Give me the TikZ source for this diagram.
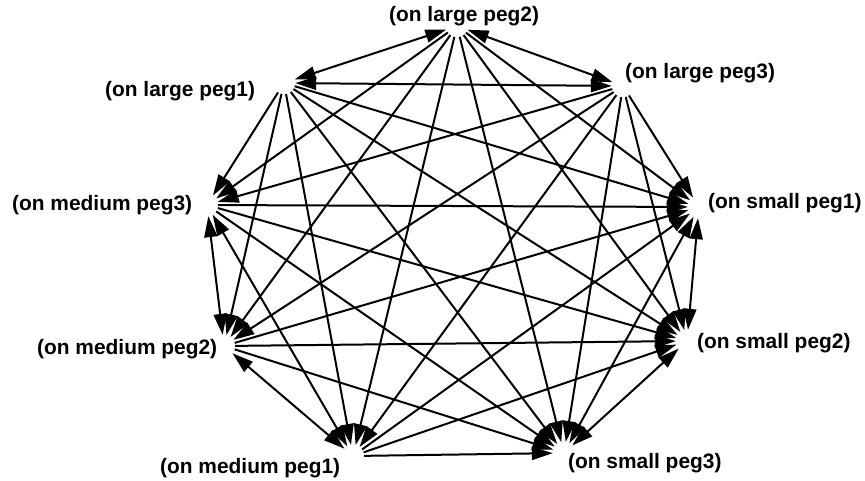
\documentclass[tikz,border=0pt]{standalone}
\usepackage{fontspec}
\setmainfont{Liberation Sans}
\usetikzlibrary{arrows.meta}
\begin{document}
\begin{tikzpicture}[x=1pt,y=-1pt,
  state/.style={circle,minimum size=22pt,inner sep=0pt},
  caption/.style={font=\fontsize{20.9}{24}\selectfont\bfseries,inner sep=0pt,anchor=base west},
  move/.style={line width=2pt,-{Triangle[length=21pt,width=13pt]}},
  twoway/.style={line width=2pt,{Triangle[length=21pt,width=13pt]}-{Triangle[length=21pt,width=13pt]}}]
\useasboundingbox (0,0) rectangle (865,480);

% states (points on a ring)
\node[state] (L2) at (457,26) {};
\node[state] (L1) at (284,83) {};
\node[state] (L3) at (623,86) {};
\node[state] (M3) at (207,205) {};
\node[state] (S1) at (699,207) {};
\node[state] (M2) at (224,346) {};
\node[state] (S2) at (687,341) {};
\node[state] (M1) at (353,456) {};
\node[state] (S3) at (564,453) {};

% captions
\node[caption] (tL2) at (389,21) {(on large peg2)};
\node[caption] (tL1) at (105,96) {(on large peg1)};
\node[caption] (tL3) at (625,78) {(on large peg3)};
\node[caption] (tM3) at (12,210) {(on medium peg3)};
\node[caption] (tS1) at (708,208) {(on small peg1)};
\node[caption] (tM2) at (37,354) {(on medium peg2)};
\node[caption] (tS2) at (697,348) {(on small peg2)};
\node[caption] (tM1) at (160,473) {(on medium peg1)};
\node[caption] (tS3) at (568,468) {(on small peg3)};

% moves down the size order
\foreach \a in {L1,L2,L3}
  \foreach \b in {M1,M2,M3,S1,S2,S3}
    \draw[move] (\a) -- (\b);
\foreach \a in {M1,M2,M3}
  \foreach \b in {S1,S2,S3}
    \draw[move] (\a) -- (\b);

% moves between pegs of the same disc, both ways
\foreach \a/\b in {L1/L2,L2/L3,L1/L3,M1/M2,M2/M3,M1/M3,S1/S2,S2/S3,S1/S3}
  \draw[twoway] (\a) -- (\b);
\end{tikzpicture}
\end{document}
